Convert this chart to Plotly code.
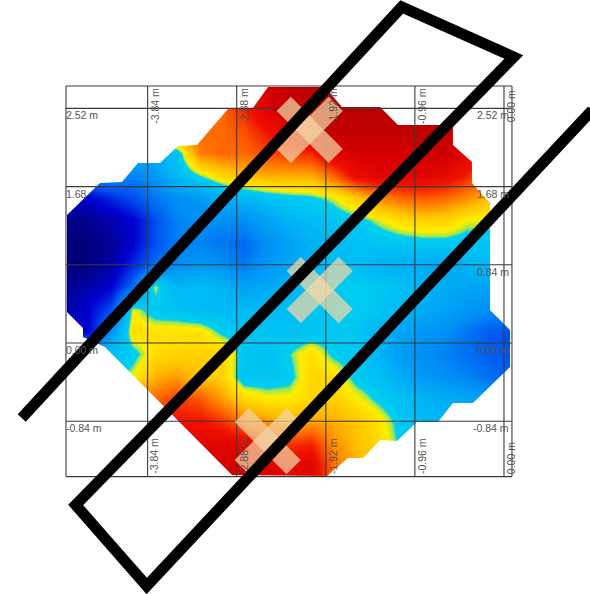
import plotly.graph_objects as go

# Survey positions in metres
x_cols = [-4.72, -4.48, -4.24, -4.00, -3.76, -3.52, -3.28, -3.04, -2.80, -2.56, -2.32,
          -2.08, -1.84, -1.60, -1.36, -1.12, -0.88, -0.64, -0.40, -0.16, 0.08]
y_rows = [2.76, 2.52, 2.28, 2.04, 1.80, 1.56, 1.32, 1.08, 0.84, 0.60, 0.36,
          0.12, -0.12, -0.36, -0.60, -0.84, -1.08, -1.32, -1.56]

# Field level
r01 = [7, 7, 7, 7, 7, 7, 7, 7, 8, 9, 9.6, 9.8, 9.8, 9.8, 9.6, 9.5, 9.5, 9.5, 9, 9, 9]
r02 = [7, 7, 7, 7, 7, 7, 7, 7, 7.8, 8.8, 9.2, 9.5, 9.7, 9.8, 9.8, 9.6, 9.5, 9.5, 9, 9, 9]
r03 = [7, 7, 7, 7, 7, 7, 7, 7, 7.3, 8, 8.6, 9, 9.5, 9.6, 9.6, 9.6, 9.6, 9.5, 9, 9, 9]
r04 = [4, 4, 4, 4, 4, 4.5, 6.8, 7, 7, 7.4, 7.6, 7.8, 8.8, 9, 9, 9, 9.2, 9.2, 8.6, 8, 8]
r05 = [3, 3, 3, 2.8, 3.2, 4.2, 4.9, 5.6, 6, 6.2, 6.2, 6.2, 7, 8.3, 8.6, 8.6, 8.6, 8.4, 7.8, 7, 7]
r06 = [1, 1, 1.5, 2, 2.6, 3, 3.3, 3.8, 4.2, 4.5, 4.7, 4.8, 5.1, 5.8, 6.6, 7, 7.2, 7, 6.6, 6, 6]
r07 = [0.2, 0.2, 0.6, 1, 2, 2.8, 3, 3, 3, 3.5, 4, 4.3, 4.5, 4.7, 5.1, 5.5, 5.7, 5.7, 5.2, 5.2, 5.2]
r08 = [0, 0, 0.3, 1, 2, 2.7, 2.8, 2.6, 2.4, 3, 3.5, 3.9, 4.2, 4.4, 4.5, 4.6, 4.7, 4.7, 4.6, 4.5, 4.5]
r09 = [0, 0, 0.5, 1.5, 2.5, 3, 3.2, 3, 2.6, 3.2, 3.6, 4, 4.4, 4.3, 4, 3.8, 3.8, 3.6, 4, 4.2, 4.2]
r10 = [0.3, 0.5, 1, 2.5, 5.1, 4, 4.3, 4, 3.5, 3.7, 4, 4.3, 4.7, 4.8, 4.6, 4.4, 4, 3.8, 3.6, 3.6, 3.6]
r11 = [0.5, 1, 2, 5.2, 4.6, 4.5, 4.2, 4.2, 4.2, 4.2, 4.3, 4.5, 4.7, 4.8, 4.6, 4.2, 3.8, 3.5, 3.2, 3, 3]
r12 = [1, 1, 3, 5.5, 5.4, 5.4, 5.4, 4.8, 4.6, 4.5, 4.4, 4.5, 4.6, 4.6, 4, 3.6, 3.2, 3, 2.6, 2.2, 2]
r13 = [4.4, 4.4, 4.4, 4.7, 5.5, 5.6, 5.7, 5.7, 4.6, 4.4, 4.9, 5.5, 4.8, 4.6, 4, 3.4, 3, 2.8, 2.5, 2.2, 2]
r14 = [5, 5, 4.5, 5.2, 6.2, 6.4, 5.9, 5.7, 4.5, 4.5, 4.7, 5.6, 5.5, 4.7, 4.4, 3.8, 3.3, 3, 2.8, 2.5, 2.3]
r15 = [7, 7, 7, 7, 7, 7.5, 7.2, 6.4, 5.6, 5.3, 5.3, 5.6, 5.8, 5.3, 4.8, 4.4, 4, 3.8, 3.6, 3.4, 3.2]
r16 = [8, 8, 8, 8, 8, 8, 8, 7.6, 6.8, 6.4, 6.2, 6.3, 6.2, 5.9, 5.4, 4.7, 4.2, 4, 3.8, 3.6, 3.6]
r17 = [8.5, 8.5, 8.5, 8.5, 8.5, 8.5, 8.5, 8.6, 8.5, 8, 7.6, 7.8, 6.6, 6, 5.6, 4.8, 4.4, 4, 4, 4, 4]
r18 = [9, 9, 9, 9, 9, 9, 9, 9, 9, 8.8, 8.4, 8.6, 7, 6.2, 5.8, 5, 4.5, 4, 4, 4, 4]
r19 = [9, 9, 9, 9, 9, 9, 9, 9, 9, 8.8, 8.4, 8.6, 7, 6.2, 5.8, 5, 4.5, 4, 4, 4, 4]
field = [r01, r02, r03, r04, r05, r06, r07, r08, r09, r10, r11, r12, r13, r14, r15, r16, r17, r18, r19]

colour_stops = [
    [0.00, "#00007c"], [0.10, "#0000d0"], [0.20, "#0050f0"], [0.30, "#0090f5"],
    [0.40, "#00b4f5"], [0.49, "#00d0f0"], [0.50, "#a0e850"], [0.52, "#ffee00"],
    [0.60, "#ffc000"], [0.70, "#ff6a00"], [0.80, "#f01000"], [0.90, "#d60000"],
    [1.00, "#b00000"],
]

# Edge of the measured area (metres)
edge_x = [-4.709, -4.709, -4.537, -4.537, -4.30, -2.931, -1.907, -1.681, -1.519, -1.336,
          -1.153, -0.938, -0.711, -0.55, -0.334, 0.065, 0.065, -0.151, -0.151, -0.345,
          -0.345, -0.55, -0.55, -1.142, -1.336, -1.746, -1.875, -1.929, -2.543, -2.705,
          -2.974, -3.308, -3.513, -3.707, -3.944, -4.116, -4.353, -4.709]
edge_y = [1.375, 0.333, 0.161, 0.064, -0.043, -1.418, -1.429, -1.235, -1.235, -1.042,
          -1.053, -0.849, -0.849, -0.644, -0.644, -0.258, 0.14, 0.354, 1.504, 1.719,
          1.944, 2.127, 2.342, 2.342, 2.535, 2.535, 2.685, 2.75, 2.75, 2.524,
          2.513, 2.127, 2.116, 1.933, 1.933, 1.729, 1.719, 1.375]

x_range = [-5.431, 0.927]
y_range = [-2.696, 3.684]

# Grid
grid_x = [-4.72, -3.84, -2.88, -1.92, -0.96, 0.00, 0.086]
grid_y = [2.76, 2.52, 1.68, 0.84, 0.00, -0.84, -1.435]

# Axis-style labels: (text, x, y, anchor)
h_labels = [
    ("2.52 m", -4.74, 2.45, "left"), ("1.68", -4.74, 1.605, "left"),
    ("0.00 m", -4.74, -0.075, "left"), ("-0.84 m", -4.74, -0.91, "left"),
    ("2.52 m", 0.08, 2.45, "right"), ("1.68 m", 0.08, 1.605, "right"),
    ("0.84 m", 0.08, 0.765, "right"), ("0.00 m", 0.08, -0.075, "right"),
    ("-0.84 m", 0.08, -0.91, "right"),
]
v_labels = [
    ("-3.84 m", -3.84, 2.34), ("-2.88 m", -2.88, 2.34), ("-1.92 m", -1.92, 2.34),
    ("-0.96 m", -0.96, 2.34), ("0.00 m", 0.00, 2.36),
    ("-3.84 m", -3.84, -1.42), ("-2.88 m", -2.88, -1.42), ("-1.92 m", -1.92, -1.42),
    ("-0.96 m", -0.96, -1.42), ("0.00 m", 0.00, -1.42),
]

# Pale crosses: centre x, centre y
cross_x = [-2.093, -1.986, -2.546]
cross_y = [2.288, 0.569, -1.053]
cross_arm = 0.28

# Black freehand stroke (metres)
stroke_x = [-5.197, -1.102, 0.105, -4.615, -3.85, 0.95]
stroke_y = [-0.806, 3.609, 3.072, -1.74, -2.61, 2.50]

fig = go.Figure()

fig.add_trace(go.Heatmap(
    x=x_cols, y=y_rows, z=field, zmin=0, zmax=10, colorscale=colour_stops,
    zsmooth="best", showscale=False, hoverinfo="skip",
))

# White outside the measured edge
mask_x = [-5.6, -5.6, 1.1, 1.1, -5.6, -5.6] + edge_x + [-5.6]
mask_y = [edge_y[0], 3.8, 3.8, -2.8, -2.8, edge_y[0]] + edge_y + [edge_y[0]]
fig.add_trace(go.Scatter(
    x=mask_x, y=mask_y, mode="lines", fill="toself", fillcolor="white",
    line=dict(width=0, color="white"), hoverinfo="skip",
))

# Grid lines
gx, gy = [], []
for v in grid_x:
    gx += [v, v, None]
    gy += [grid_y[0], grid_y[-1], None]
for v in grid_y:
    gx += [grid_x[0], grid_x[-1], None]
    gy += [v, v, None]
fig.add_trace(go.Scatter(x=gx, y=gy, mode="lines", line=dict(color="#3a3a3a", width=1.1), hoverinfo="skip"))

annotations = []
for text, x, y, anchor in h_labels:
    annotations.append(dict(text=text, x=x, y=y, xref="x", yref="y", xanchor=anchor, yanchor="middle",
                            showarrow=False, font=dict(family="Liberation Sans", size=10.5, color="#555555")))
for text, x, y in v_labels:
    annotations.append(dict(text=text, x=x, y=y, xref="x", yref="y", xanchor="left", yanchor="bottom",
                            textangle=-90, showarrow=False, borderpad=0,
                            font=dict(family="Liberation Sans", size=10.5, color="#555555")))

# Crosses
cx, cy = [], []
for a, b in zip(cross_x, cross_y):
    cx += [a - cross_arm, a + cross_arm, None, a - cross_arm, a + cross_arm, None]
    cy += [b + cross_arm, b - cross_arm, None, b - cross_arm, b + cross_arm, None]
fig.add_trace(go.Scatter(x=cx, y=cy, mode="lines",
                         line=dict(color="rgba(243,215,165,0.72)", width=20), hoverinfo="skip"))

# Black stroke
fig.add_trace(go.Scatter(x=stroke_x, y=stroke_y, mode="lines",
                         line=dict(color="#000000", width=11), hoverinfo="skip"))

fig.update_layout(
    width=590, height=594, margin=dict(l=0, r=0, t=0, b=0),
    paper_bgcolor="white", plot_bgcolor="white", showlegend=False,
    xaxis=dict(range=x_range, visible=False, fixedrange=True),
    yaxis=dict(range=y_range, visible=False, fixedrange=True),
    annotations=annotations,
)
fig.write_html("out.html", config={"displayModeBar": False},
               post_script="document.body.style.margin='0';document.documentElement.style.overflow='hidden';")
